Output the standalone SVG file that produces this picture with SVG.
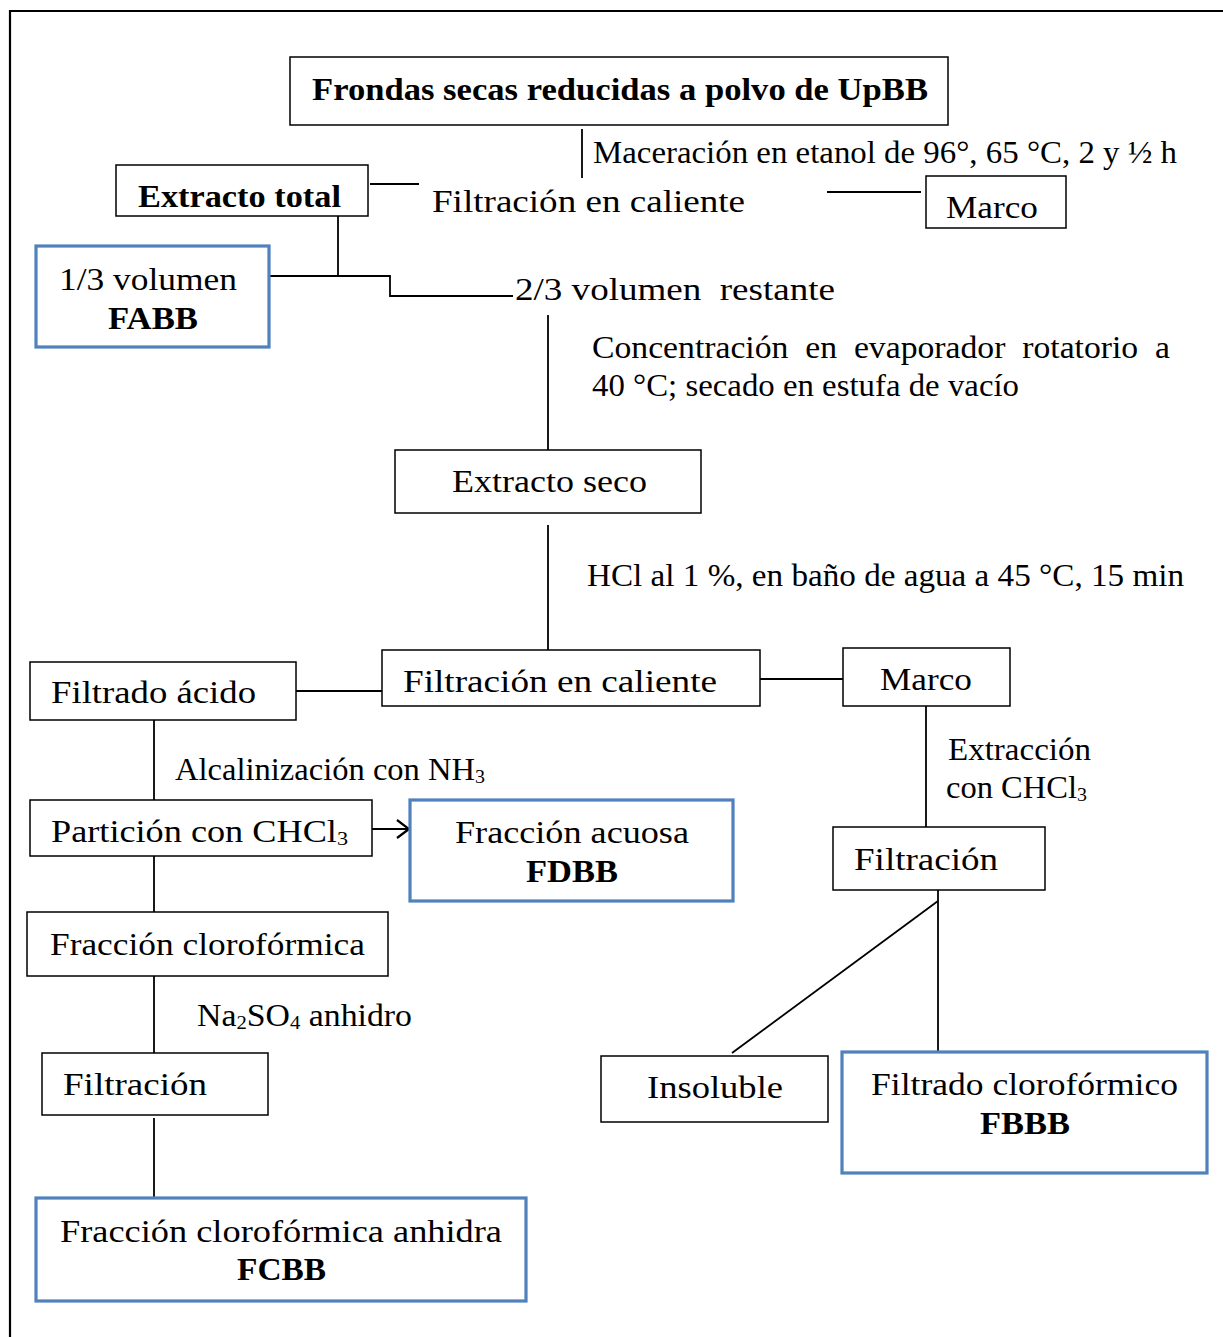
<svg xmlns="http://www.w3.org/2000/svg" width="1223" height="1337" viewBox="0 0 1223 1337">
  <defs>
    <style>
      text { font-family: "Liberation Serif", "DejaVu Serif", serif; font-size: 31px; fill: #000; white-space: pre; }
      .b { font-weight: bold; }
      .box { fill: #fff; stroke: #000; stroke-width: 1.5; }
      .res { fill: #fff; stroke: #4f81bd; stroke-width: 3.2; }
      .ln { fill: none; stroke: #000; stroke-width: 1.8; }
      .sub { font-size: 19px; }
    </style>
    <marker id="open" viewBox="0 0 14 20" refX="13" refY="10" markerWidth="14" markerHeight="20" markerUnits="userSpaceOnUse" orient="auto">
      <path d="M1,1 L13,10 L1,19" fill="none" stroke="#000" stroke-width="2.2"/>
    </marker>
  </defs>

  <rect width="1223" height="1337" fill="#fff"/>
  <!-- page frame -->
  <path d="M10,1337 V11 H1223" fill="none" stroke="#000" stroke-width="2.2"/>

  <!-- connectors -->
  <g id="connectors">
    <line class="ln" x1="582" y1="129" x2="582" y2="178"/>
    <line class="ln" x1="370" y1="184" x2="419" y2="184"/>
    <line class="ln" x1="827" y1="192" x2="921" y2="192"/>
    <line class="ln" x1="338" y1="216" x2="338" y2="276"/>
    <path class="ln" d="M269,276 H390 V296 H513"/>
    <line class="ln" x1="548" y1="315" x2="548" y2="450"/>
    <line class="ln" x1="548" y1="525" x2="548" y2="650"/>
    <line class="ln" x1="296" y1="691" x2="382" y2="691"/>
    <line class="ln" x1="760" y1="679" x2="843" y2="679"/>
    <line class="ln" x1="154" y1="720" x2="154" y2="800"/>
    <line class="ln" x1="372" y1="829" x2="409" y2="829" marker-end="url(#open)"/>
    <line class="ln" x1="154" y1="856" x2="154" y2="912"/>
    <line class="ln" x1="154" y1="976" x2="154" y2="1053"/>
    <line class="ln" x1="154" y1="1118" x2="154" y2="1198"/>
    <line class="ln" x1="926" y1="706" x2="926" y2="827"/>
    <line class="ln" x1="938" y1="890" x2="938" y2="1052"/>
    <line class="ln" x1="938" y1="901" x2="732" y2="1053"/>
  </g>

  <!-- step labels -->
  <g id="labels" xml:space="preserve">
    <text x="593" y="163" textLength="584" lengthAdjust="spacingAndGlyphs">Maceración en etanol de 96°, 65 °C, 2 y ½ h</text>
    <text x="432" y="212" textLength="313" lengthAdjust="spacingAndGlyphs">Filtración en caliente</text>
    <text x="515" y="300" textLength="320" lengthAdjust="spacingAndGlyphs">2/3 volumen  restante</text>
    <text x="592" y="358" textLength="578" lengthAdjust="spacingAndGlyphs">Concentración  en  evaporador  rotatorio  a</text>
    <text x="592" y="396" textLength="427" lengthAdjust="spacingAndGlyphs">40 °C; secado en estufa de vacío</text>
    <text x="587" y="586" textLength="597" lengthAdjust="spacingAndGlyphs">HCl al 1 %, en baño de agua a 45 °C, 15 min</text>
    <text x="175" y="780" textLength="310" lengthAdjust="spacingAndGlyphs">Alcalinización con NH<tspan class="sub" dy="3">3</tspan></text>
    <text x="197" y="1026" textLength="215" lengthAdjust="spacingAndGlyphs">Na<tspan class="sub" dy="3">2</tspan><tspan dy="-3">SO</tspan><tspan class="sub" dy="3">4</tspan><tspan dy="-3"> anhidro</tspan></text>
    <text x="948" y="760" textLength="143" lengthAdjust="spacingAndGlyphs">Extracción</text>
    <text x="946" y="798" textLength="141" lengthAdjust="spacingAndGlyphs">con CHCl<tspan class="sub" dy="3">3</tspan></text>
  </g>

  <!-- nodes -->
  <g id="n-frondas">
    <rect class="box" x="290" y="57" width="658" height="68"/>
    <text class="b" x="312" y="100" textLength="616" lengthAdjust="spacingAndGlyphs">Frondas secas reducidas a polvo de UpBB</text>
  </g>
  <g id="n-extracto-total">
    <rect class="box" x="116" y="165" width="252" height="51"/>
    <text class="b" x="138" y="207" textLength="203" lengthAdjust="spacingAndGlyphs">Extracto total</text>
  </g>
  <g id="n-marco-1">
    <rect class="box" x="926" y="176" width="140" height="52"/>
    <text x="946" y="218" textLength="92" lengthAdjust="spacingAndGlyphs">Marco</text>
  </g>
  <g id="n-fabb">
    <rect class="res" x="36" y="246" width="233" height="101"/>
    <text x="59" y="290" textLength="178" lengthAdjust="spacingAndGlyphs">1/3 volumen</text>
    <text class="b" x="108" y="329" textLength="90" lengthAdjust="spacingAndGlyphs">FABB</text>
  </g>
  <g id="n-extracto-seco">
    <rect class="box" x="395" y="450" width="306" height="63"/>
    <text x="452" y="492" textLength="195" lengthAdjust="spacingAndGlyphs">Extracto seco</text>
  </g>
  <g id="n-filtracion-caliente">
    <rect class="box" x="382" y="650" width="378" height="56"/>
    <text x="403" y="692" textLength="314" lengthAdjust="spacingAndGlyphs">Filtración en caliente</text>
  </g>
  <g id="n-filtrado-acido">
    <rect class="box" x="30" y="662" width="266" height="58"/>
    <text x="51" y="703" textLength="205" lengthAdjust="spacingAndGlyphs">Filtrado ácido</text>
  </g>
  <g id="n-marco-2">
    <rect class="box" x="843" y="648" width="167" height="58"/>
    <text x="880" y="690" textLength="92" lengthAdjust="spacingAndGlyphs">Marco</text>
  </g>
  <g id="n-particion">
    <rect class="box" x="30" y="800" width="342" height="56"/>
    <text x="51" y="842" textLength="297" lengthAdjust="spacingAndGlyphs">Partición con CHCl<tspan class="sub" dy="3">3</tspan></text>
  </g>
  <g id="n-fdbb">
    <rect class="res" x="410" y="800" width="323" height="101"/>
    <text x="455" y="843" textLength="234" lengthAdjust="spacingAndGlyphs">Fracción acuosa</text>
    <text class="b" x="526" y="882" textLength="92" lengthAdjust="spacingAndGlyphs">FDBB</text>
  </g>
  <g id="n-fraccion-cloroformica">
    <rect class="box" x="27" y="912" width="361" height="64"/>
    <text x="50" y="955" textLength="315" lengthAdjust="spacingAndGlyphs">Fracción clorofórmica</text>
  </g>
  <g id="n-filtracion-izq">
    <rect class="box" x="42" y="1053" width="226" height="62"/>
    <text x="63" y="1095" textLength="144" lengthAdjust="spacingAndGlyphs">Filtración</text>
  </g>
  <g id="n-fcbb">
    <rect class="res" x="36" y="1198" width="490" height="103"/>
    <text x="60" y="1242" textLength="442" lengthAdjust="spacingAndGlyphs">Fracción clorofórmica anhidra</text>
    <text class="b" x="237" y="1280" textLength="89" lengthAdjust="spacingAndGlyphs">FCBB</text>
  </g>
  <g id="n-filtracion-der">
    <rect class="box" x="833" y="827" width="212" height="63"/>
    <text x="854" y="870" textLength="144" lengthAdjust="spacingAndGlyphs">Filtración</text>
  </g>
  <g id="n-insoluble">
    <rect class="box" x="601" y="1056" width="227" height="66"/>
    <text x="647" y="1098" textLength="136" lengthAdjust="spacingAndGlyphs">Insoluble</text>
  </g>
  <g id="n-fbbb">
    <rect class="res" x="842" y="1052" width="365" height="121"/>
    <text x="871" y="1095" textLength="307" lengthAdjust="spacingAndGlyphs">Filtrado clorofórmico</text>
    <text class="b" x="980" y="1134" textLength="90" lengthAdjust="spacingAndGlyphs">FBBB</text>
  </g>
</svg>
